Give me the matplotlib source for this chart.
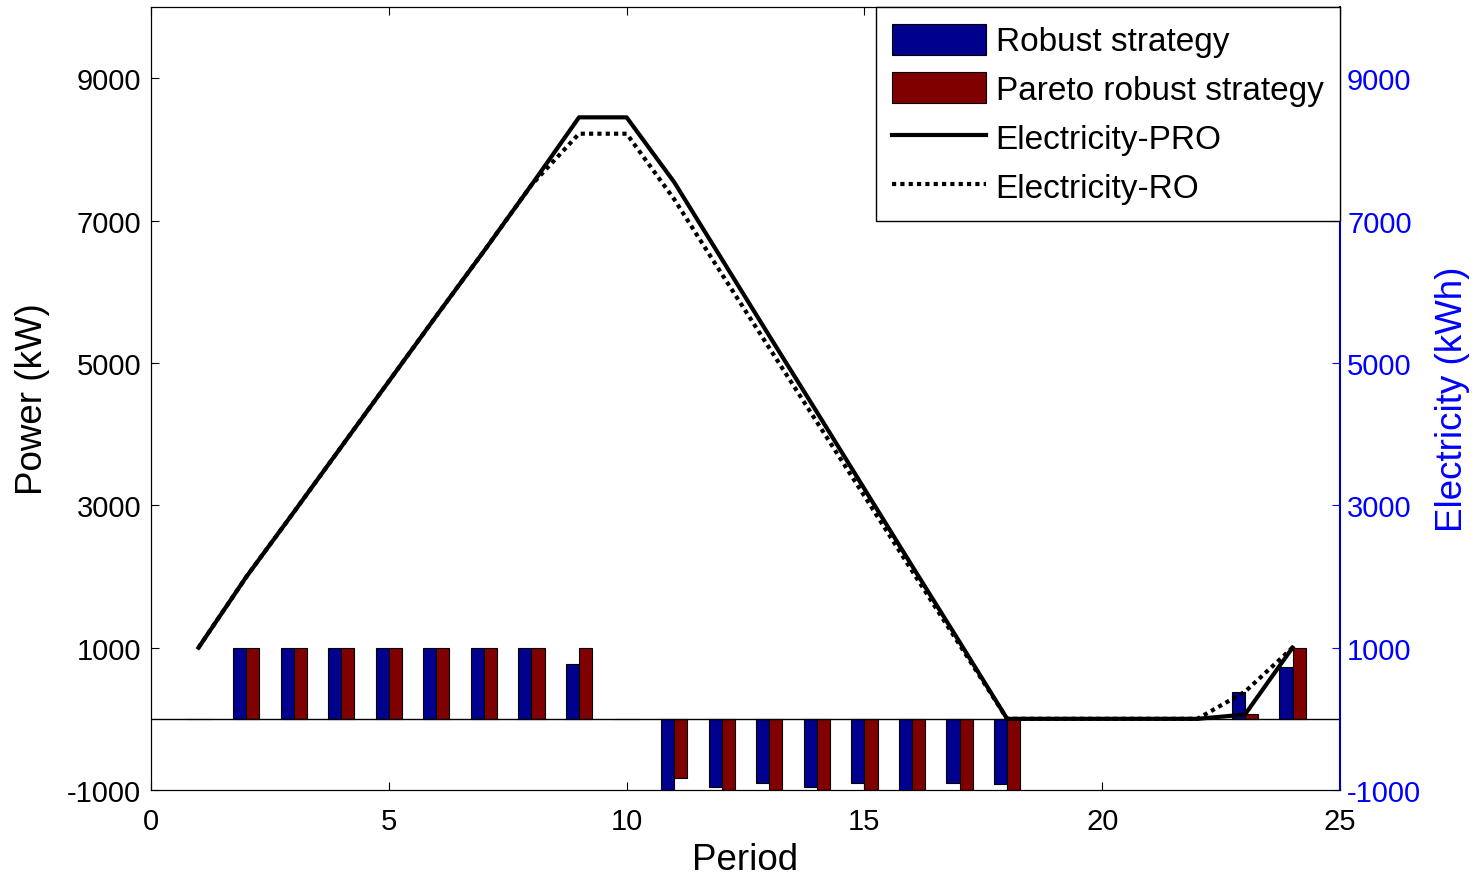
import numpy as np
import matplotlib.pyplot as plt
from matplotlib.patches import Patch
from matplotlib.lines import Line2D

plt.rcParams['font.family'] = ['Liberation Sans', 'DejaVu Sans']
plt.rcParams['axes.unicode_minus'] = False

periods = np.arange(1, 25)
robust = [0, 1000, 1000, 1000, 1000, 1000, 1000, 1000, 770, 0,
          -1000, -960, -895, -960, -895, -1000, -895, -920,
          0, 0, 0, 0, 370, 730]
pareto = [0, 1000, 1000, 1000, 1000, 1000, 1000, 1000, 1000, 0,
          -825, -1000, -1000, -1000, -1000, -1000, -1000, -1000,
          0, 0, 0, 0, 70, 1000]

elec_pro = [1000, 1990, 2900, 3820, 4740, 5660, 6570, 7500, 8450, 8450,
            7540, 6460, 5380, 4310, 3230, 2150, 1080, 0,
            0, 0, 0, 0, 60, 1000]
elec_ro = [1000, 1990, 2900, 3820, 4740, 5660, 6570, 7500, 8220, 8220,
           7300, 6250, 5210, 4170, 3130, 2080, 1040, 0,
           0, 0, 0, 0, 380, 1000]

blue = '#00008F'
red = '#800000'

fig = plt.figure(figsize=(14.77, 8.79), dpi=100)
ax = fig.add_axes([0.1022, 0.1001, 0.8051, 0.8908])

w = 0.275
ax.bar(periods - w / 2, robust, w, color=blue, edgecolor='black', linewidth=0.8)
ax.bar(periods + w / 2, pareto, w, color=red, edgecolor='black', linewidth=0.8)
ax.axhline(0, color='black', linewidth=1)

ax.set_xlim(0, 25)
ax.set_ylim(-1000, 10000)
ax.set_xticks([0, 5, 10, 15, 20, 25])
ax.set_yticks([-1000, 1000, 3000, 5000, 7000, 9000])
ax.tick_params(direction='in', labelsize=21, length=6, top=True)
ax.tick_params(axis='x', pad=12)
ax.tick_params(axis='y', pad=7)
ax.set_xlabel('Period', fontsize=26.5, labelpad=5)
ax.set_ylabel('Power (kW)', fontsize=26.5, labelpad=12)
ax.spines['right'].set_visible(False)

ax2 = ax.twinx()
ax2.plot(periods, elec_pro, color='black', linewidth=3)
ax2.plot(periods, elec_ro, color='black', linewidth=3, linestyle=(0, (1, 1)))
ax2.set_ylim(-1000, 10000)
ax2.set_yticks([-1000, 1000, 3000, 5000, 7000, 9000])
ax2.tick_params(direction='in', labelsize=21, length=6, colors='#0000FF', pad=5)
ax2.spines['right'].set_color('#0000C0')
ax2.spines['right'].set_linewidth(1.5)
ax2.set_ylabel('Electricity (kWh)', fontsize=26.5, color='#0000FF', labelpad=10)

handles = [Patch(facecolor=blue, edgecolor='black', linewidth=0.8),
           Patch(facecolor=red, edgecolor='black', linewidth=0.8),
           Line2D([], [], color='black', linewidth=3),
           Line2D([], [], color='black', linewidth=3, linestyle=(0, (1, 1)))]
labels = ['Robust strategy', 'Pareto robust strategy', 'Electricity-PRO', 'Electricity-RO']
leg = ax2.legend(handles, labels, loc='upper right', fontsize=24, fancybox=False,
                 edgecolor='black', framealpha=1, handlelength=2.8, handleheight=1.05,
                 borderaxespad=0, borderpad=0.5, labelspacing=0.45, handletextpad=0.3)
leg.get_frame().set_linewidth(1)

fig.savefig('out.png', dpi=100)
